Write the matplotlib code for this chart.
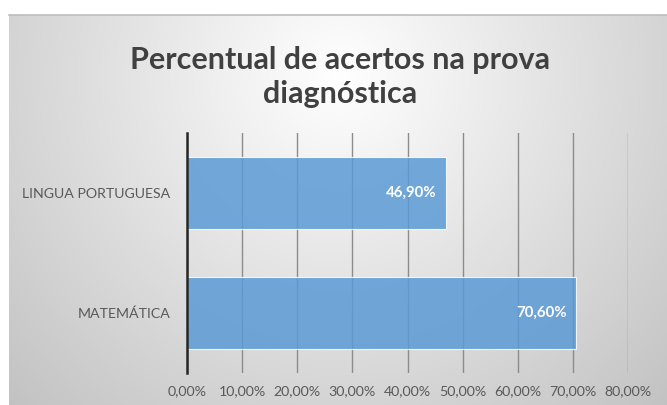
import numpy as np
import matplotlib
matplotlib.use("Agg")
import matplotlib.pyplot as plt
from matplotlib.ticker import FuncFormatter

# dados da prova diagnóstica
disciplinas = ["MATEMÁTICA", "LINGUA PORTUGUESA"]
acertos = [70.6, 46.9]
xticks = [0, 10, 20, 30, 40, 50, 60, 70, 80]
titulo = "Percentual de acertos na prova\ndiagnóstica"

plt.rcParams["font.family"] = ["Lato", "DejaVu Sans"]

W, H = 667, 405
fig = plt.figure(figsize=(W / 100, H / 100), dpi=100)
fig.patch.set_facecolor("white")

# fundo do gráfico com degradê radial
bg = fig.add_axes([9 / W, 0, (W - 9) / W, (H - 15) / H])
bg.set_axis_off()
gx, gy = np.meshgrid(np.arange(W - 9), np.arange(H - 15))
d = np.hypot(gx - 330, gy - 60)
tom = np.clip(255 - 0.13 * d, 0, 255) / 255
bg.imshow(np.dstack([tom, tom, tom]), aspect="auto", extent=[0, 1, 0, 1], origin="upper")
bg.set_xlim(0, 1)
bg.set_ylim(0, 1)
bg.plot([0, 1], [1, 1], color="#bdbdbd", lw=1.2, transform=bg.transAxes, clip_on=False)

ax = fig.add_axes([187 / W, 32 / H, 441 / W, 240 / H])
ax.patch.set_alpha(0)

pos = np.arange(len(disciplinas))
barras = ax.barh(pos, acertos, height=0.6, color="#5B9BD5", alpha=0.85,
                 edgecolor=(1, 1, 1, 0.6), linewidth=0.8, zorder=3)

for b, v in zip(barras, acertos):
    ax.text(v - 1.6, b.get_y() + b.get_height() / 2, f"{v:.2f}%".replace(".", ","),
            ha="right", va="center", color="white", fontsize=10.8, fontweight="bold", zorder=4)

ax.set_xlim(0, 80)
ax.set_ylim(-0.5, 1.5)
ax.set_xticks(xticks)
ax.xaxis.set_major_formatter(FuncFormatter(lambda x, p: f"{x:.2f}%".replace(".", ",")))
ax.set_yticks(pos)
ax.set_yticklabels(disciplinas)
ax.tick_params(length=0, labelsize=10.2, labelcolor="#595959")
ax.tick_params(axis="x", pad=9)
ax.tick_params(axis="y", pad=12)

ax.grid(axis="x", color="#8c8c8c", linewidth=1.0, zorder=1)
for s in ["top", "right", "bottom"]:
    ax.spines[s].set_visible(False)
ax.spines["left"].set_color("#262626")
ax.spines["left"].set_linewidth(1.8)
ax.spines["left"].set_zorder(5)

fig.text(340 / W, 1 - 77 / H, titulo, ha="center", va="center", fontsize=22,
         fontweight="bold", color="#404040", linespacing=1.3)

fig.savefig("out.png", dpi=100)
